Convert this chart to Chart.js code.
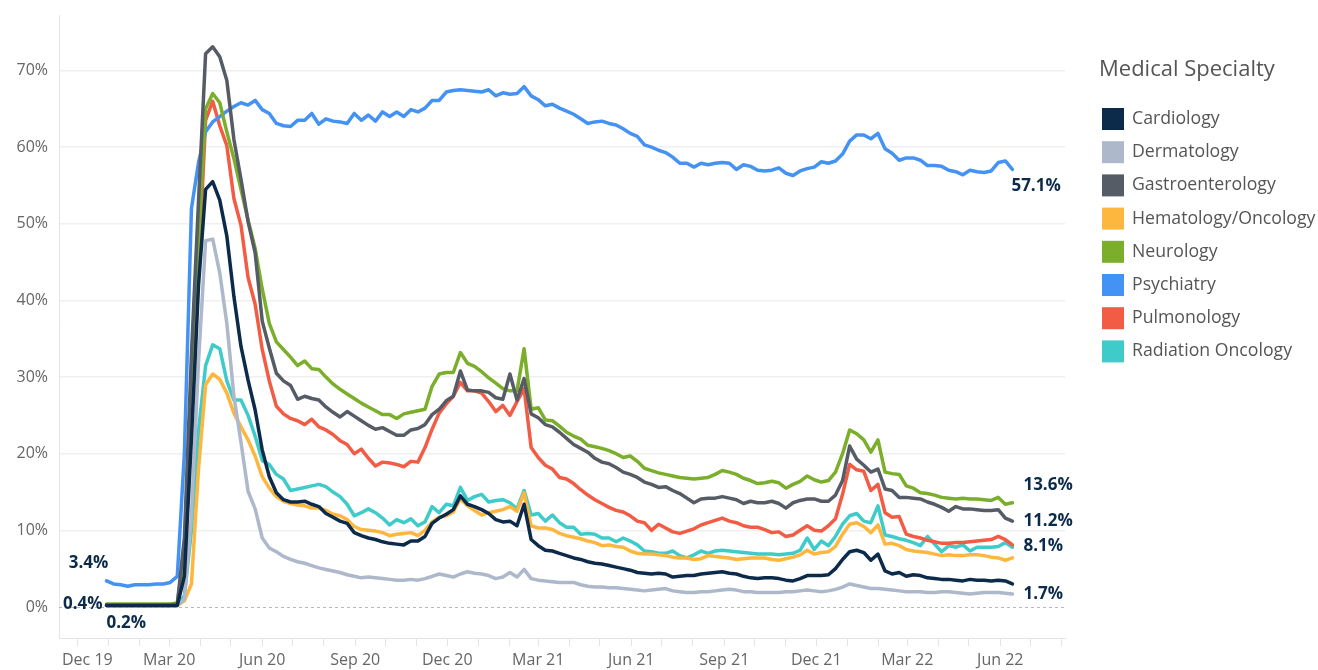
<!DOCTYPE html>
<html>
<head>
<meta charset="utf-8">
<title>Medical Specialty</title>
<script src="https://cdn.jsdelivr.net/npm/chart.js@4.4.1/dist/chart.umd.min.js"></script>
<style>
  html, body { margin: 0; padding: 0; background: #ffffff; }
  #wrap { position: relative; width: 1318px; height: 670px; }
</style>
</head>
<body>
<div id="wrap"><canvas id="grafica"></canvas></div>
<script>
// Semanas (lunes) desde el 30-dic-2019, 129 puntos
const primeraSemana = Date.UTC(2019, 11, 30);
const numSemanas = 129;

// Etiquetas trimestrales del eje x
const etiquetasTrimestre = ['Dec 19', 'Mar 20', 'Jun 20', 'Sep 20', 'Dec 20', 'Mar 21', 'Jun 21', 'Sep 21', 'Dec 21', 'Mar 22', 'Jun 22'];
const especialidades = ['Cardiology', 'Dermatology', 'Gastroenterology', 'Hematology/Oncology', 'Neurology', 'Psychiatry', 'Pulmonology', 'Radiation Oncology'];
const colores = ['#0c2b4b', '#adb8cb', '#555c66', '#fdb73e', '#7bae2a', '#4492f4', '#f25c45', '#3fcbc9'];
const ticksY = [0, 10, 20, 30, 40, 50, 60, 70];

// Valores semanales (%)
const cardiology = [
  0.2, 0.2, 0.2, 0.2, 0.2, 0.2, 0.2, 0.2, 0.2, 0.2,
  0.2, 4, 22, 42, 54.5, 55.5, 53.1, 48.4, 40.5, 34.0,
  29.6, 25.7, 20.5, 17.0, 14.9, 14.0, 13.7, 13.7, 13.8, 13.4,
  13.1, 12.2, 11.7, 11.2, 10.9, 9.7, 9.3, 9.0, 8.8, 8.5,
  8.3, 8.2, 8.1, 8.6, 8.6, 9.2, 10.9, 11.6, 12.1, 12.7,
  14.5, 13.4, 13.1, 12.7, 12.2, 11.4, 11.1, 11.2, 10.6, 13.4,
  8.8, 8.0, 7.4, 7.3, 7.0, 6.7, 6.4, 6.2, 5.9, 5.7,
  5.6, 5.4, 5.2, 5.0, 4.8, 4.5, 4.4, 4.3, 4.4, 4.3,
  3.9, 4.0, 4.1, 4.1, 4.3, 4.4, 4.5, 4.6, 4.4, 4.3,
  4.0, 3.8, 3.7, 3.8, 3.8, 3.7, 3.5, 3.4, 3.7, 4.1,
  4.1, 4.1, 4.2, 5.0, 6.2, 7.2, 7.4, 7.1, 6.1, 6.9,
  4.7, 4.3, 4.5, 4.0, 4.2, 4.1, 3.8, 3.7, 3.6, 3.6,
  3.5, 3.4, 3.6, 3.5, 3.5, 3.4, 3.5, 3.4, 3.0
];
const dermatology = [
  0.2, 0.2, 0.2, 0.2, 0.2, 0.2, 0.2, 0.2, 0.2, 0.2,
  0.2, 1, 12, 32, 47.8, 48.0, 43.6, 37.0, 27.5, 21.5,
  15.1, 12.8, 9.0, 7.7, 7.2, 6.6, 6.2, 5.9, 5.7, 5.4,
  5.1, 4.9, 4.7, 4.5, 4.2, 4.0, 3.8, 3.9, 3.8, 3.7,
  3.6, 3.5, 3.5, 3.6, 3.5, 3.7, 4.0, 4.3, 4.1, 3.9,
  4.3, 4.6, 4.4, 4.3, 4.1, 3.7, 3.9, 4.5, 3.9, 4.9,
  3.7, 3.5, 3.4, 3.3, 3.2, 3.2, 3.2, 2.9, 2.7, 2.6,
  2.6, 2.5, 2.5, 2.4, 2.3, 2.2, 2.1, 2.2, 2.3, 2.4,
  2.1, 2.0, 1.9, 1.9, 2.0, 2.0, 2.1, 2.2, 2.3, 2.2,
  2.0, 2.0, 1.9, 1.9, 1.9, 1.9, 2.0, 2.0, 2.1, 2.2,
  2.1, 2.0, 2.1, 2.3, 2.6, 3.0, 2.8, 2.6, 2.4, 2.4,
  2.3, 2.2, 2.1, 2.0, 2.0, 2.0, 1.9, 1.9, 2.0, 2.0,
  1.9, 1.8, 1.7, 1.8, 1.9, 1.9, 1.9, 1.8, 1.7
];
const gastroenterology = [
  0.3, 0.3, 0.3, 0.3, 0.3, 0.3, 0.3, 0.3, 0.3, 0.3,
  0.4, 9, 33, 53, 72.2, 73.1, 71.8, 68.7, 61.0, 55.8,
  50.3, 46.2, 37.3, 33.8, 30.5, 29.5, 28.9, 27.1, 27.5, 27.2,
  27.0, 26.1, 25.4, 24.8, 25.5, 24.9, 24.3, 23.7, 23.2, 23.4,
  22.9, 22.4, 22.4, 23.1, 23.3, 23.8, 25.1, 25.8, 26.9, 27.5,
  30.8, 28.3, 28.2, 28.2, 28.0, 27.3, 27.1, 30.4, 27.0, 29.8,
  25.2, 24.7, 23.8, 23.5, 22.8, 22.0, 21.2, 20.7, 20.2, 19.4,
  18.9, 18.7, 18.2, 17.6, 17.3, 16.9, 16.3, 16.0, 15.6, 15.7,
  15.2, 14.8, 14.2, 13.6, 14.1, 14.2, 14.2, 14.4, 14.2, 14.0,
  13.5, 13.8, 13.6, 13.6, 13.8, 13.5, 12.9, 13.6, 13.9, 14.1,
  14.1, 13.8, 13.8, 14.6, 16.5, 21.0, 19.3, 18.5, 17.6, 18.0,
  15.4, 15.2, 14.3, 14.3, 14.2, 14.1, 13.7, 13.4, 13.0, 12.5,
  13.1, 12.8, 12.8, 12.7, 12.6, 12.6, 12.7, 11.6, 11.2
];
const hematologyOncology = [
  0.2, 0.2, 0.2, 0.2, 0.2, 0.2, 0.2, 0.2, 0.2, 0.2,
  0.2, 0.8, 3, 18, 29.0, 30.4, 29.7, 27.9, 25.3, 23.5,
  21.8, 19.7, 17.0, 15.5, 14.4, 13.8, 13.5, 13.3, 13.2, 12.9,
  12.9, 12.6, 12.1, 11.9, 11.4, 10.5, 10.1, 10.0, 9.9, 9.7,
  9.3, 9.5, 9.6, 9.7, 9.3, 10.0, 11.1, 11.7, 11.9, 12.4,
  14.1, 13.2, 12.6, 12.0, 12.3, 12.5, 12.7, 13.1, 12.5, 14.9,
  10.6, 10.3, 10.3, 10.1, 9.6, 9.3, 9.1, 8.9, 8.6, 8.4,
  8.0, 8.1, 7.9, 7.8, 7.3, 7.0, 6.9, 6.9, 6.8, 6.7,
  6.5, 6.4, 6.4, 6.2, 6.3, 6.7, 6.6, 6.5, 6.4, 6.2,
  6.3, 6.4, 6.4, 6.4, 6.2, 6.1, 6.3, 6.5, 6.8, 7.4,
  6.9, 7.1, 7.2, 7.9, 9.5, 10.8, 11.0, 10.5, 9.7, 10.7,
  8.2, 8.3, 8.0, 7.5, 7.3, 7.2, 7.1, 6.9, 6.7, 6.8,
  6.7, 6.7, 6.8, 6.8, 6.7, 6.5, 6.4, 6.1, 6.4
];
const neurology = [
  0.4, 0.4, 0.4, 0.4, 0.4, 0.4, 0.4, 0.4, 0.4, 0.4,
  0.5, 7, 28, 48, 65.0, 67.0, 65.8, 62.0, 58.5, 54.5,
  50.5, 46.8, 41.5, 37.0, 34.6, 33.6, 32.6, 31.5, 32.1, 31.1,
  31.0, 30.0, 29.1, 28.4, 27.8, 27.2, 26.6, 26.1, 25.6, 25.1,
  25.1, 24.6, 25.2, 25.4, 25.6, 25.8, 28.8, 30.4, 30.6, 30.6,
  33.2, 31.8, 31.4, 30.7, 29.9, 29.2, 28.5, 28.2, 28.2, 33.7,
  25.8, 26.0, 24.4, 24.3, 23.6, 22.8, 22.3, 21.9, 21.1, 20.9,
  20.7, 20.4, 20.0, 19.5, 19.7, 19.0, 18.1, 17.8, 17.5, 17.3,
  17.1, 16.9, 16.8, 16.7, 16.8, 16.9, 17.3, 17.8, 17.6, 17.3,
  16.8, 16.5, 16.1, 16.2, 16.4, 16.2, 15.5, 16.0, 16.4, 17.1,
  16.6, 16.3, 16.5, 17.6, 20.0, 23.1, 22.6, 21.8, 20.2, 21.8,
  17.6, 17.4, 17.3, 15.8, 15.5, 14.9, 14.8, 14.6, 14.3, 14.2,
  14.1, 14.2, 14.1, 14.1, 14.0, 13.9, 14.3, 13.4, 13.6
];
const psychiatry = [
  3.4, 3.0, 2.9, 2.7, 2.9, 2.9, 2.9, 3.0, 3.0, 3.2,
  4.0, 20, 52, 58, 62.0, 63.3, 64.0, 64.7, 65.3, 65.8,
  65.5, 66.1, 64.9, 64.4, 63.1, 62.8, 62.7, 63.5, 63.5, 64.4,
  63.0, 63.7, 63.4, 63.3, 63.1, 64.4, 63.5, 64.2, 63.4, 64.6,
  64.0, 64.6, 64.0, 64.9, 64.6, 65.1, 66.1, 66.1, 67.2, 67.4,
  67.5, 67.4, 67.3, 67.2, 67.5, 66.7, 67.1, 66.9, 67.0, 67.9,
  66.7, 66.2, 65.4, 65.6, 65.1, 64.7, 64.3, 63.7, 63.1, 63.3,
  63.4, 63.1, 62.9, 62.4, 61.8, 61.4, 60.3, 60.0, 59.6, 59.3,
  58.7, 57.9, 57.9, 57.4, 57.9, 57.7, 57.9, 58.0, 57.9, 57.1,
  57.7, 57.5, 57.0, 56.9, 57.0, 57.3, 56.6, 56.3, 56.9, 57.2,
  57.4, 58.1, 57.9, 58.2, 59.1, 60.8, 61.6, 61.6, 61.1, 61.8,
  59.8, 59.2, 58.3, 58.6, 58.6, 58.3, 57.6, 57.6, 57.5, 57.0,
  56.8, 56.4, 57.0, 56.8, 56.7, 56.9, 58.0, 58.2, 57.1
];
const pulmonology = [
  0.2, 0.2, 0.2, 0.2, 0.2, 0.2, 0.2, 0.2, 0.2, 0.2,
  0.3, 5, 24, 44, 63.5, 66.0, 62.8, 60.2, 53.3, 49.8,
  43.0, 39.5, 33.6, 29.5, 26.2, 25.2, 24.6, 24.3, 23.8, 24.5,
  23.5, 23.1, 22.5, 21.7, 21.2, 20.0, 20.6, 19.4, 18.4, 18.9,
  18.8, 18.6, 18.3, 19.0, 18.9, 20.8, 23.2, 25.3, 26.5, 27.5,
  29.3, 28.2, 28.2, 27.9, 26.8, 25.5, 26.3, 25.0, 26.8, 28.5,
  20.8, 19.5, 18.5, 18.0, 16.9, 16.7, 16.1, 15.3, 14.6, 14.0,
  13.5, 13.0, 12.6, 12.4, 11.9, 11.2, 11.0, 10.0, 10.8, 10.3,
  9.8, 9.6, 9.9, 10.2, 10.7, 11.0, 11.3, 11.6, 11.2, 11.0,
  10.6, 10.4, 10.4, 10.1, 9.7, 9.8, 9.2, 9.4, 10.0, 10.6,
  10.0, 9.9, 10.6, 11.5, 14.7, 18.6, 17.9, 17.7, 15.2, 16.0,
  12.3, 11.7, 11.8, 9.5, 9.2, 9.0, 8.7, 8.5, 8.3, 8.3,
  8.4, 8.4, 8.5, 8.6, 8.7, 8.8, 9.2, 8.8, 8.1
];
const radiationOncology = [
  0.2, 0.2, 0.2, 0.2, 0.2, 0.2, 0.2, 0.2, 0.2, 0.2,
  0.2, 1.5, 10, 23, 31.5, 34.2, 33.7, 29.5, 27.0, 27.0,
  25.0, 22.3, 19.1, 18.6, 17.3, 16.7, 15.2, 15.4, 15.6, 15.8,
  16.0, 15.7, 15.0, 14.4, 13.4, 11.9, 12.3, 12.8, 12.3, 11.6,
  10.7, 11.4, 11.0, 11.5, 10.6, 11.1, 13.1, 12.3, 13.4, 13.2,
  15.6, 13.9, 14.4, 14.7, 13.7, 13.9, 14.0, 13.6, 12.8, 15.2,
  12.0, 12.2, 11.2, 12.0, 11.0, 10.4, 10.4, 9.5, 9.6, 9.5,
  9.0, 9.0, 8.5, 9.0, 8.6, 8.1, 7.3, 7.2, 7.0, 7.0,
  7.3, 6.7, 6.4, 6.8, 7.3, 7.0, 7.3, 7.4, 7.3, 7.2,
  7.1, 7.0, 6.9, 6.9, 6.9, 6.8, 6.9, 7.0, 7.4, 9.0,
  7.5, 8.6, 8.0, 9.2, 10.8, 11.9, 12.2, 11.2, 11.0, 13.2,
  9.4, 9.2, 8.9, 8.7, 8.4, 8.0, 9.2, 8.2, 7.2, 8.0,
  7.8, 8.1, 7.3, 7.8, 7.8, 7.8, 7.9, 8.4, 7.8
];

const series = [cardiology, dermatology, gastroenterology, hematologyOncology, neurology, psychiatry, pulmonology, radiationOncology];

// Utilidad: dias desde el 1-dic-2019
const origen = Date.UTC(2019, 11, 1);
const DIA = 86400000;
const diasDesde = (t) => Math.round((t - origen) / DIA);

const semanas = [];
for (let i = 0; i < numSemanas; i++) {
    semanas.push(diasDesde(primeraSemana) + 7 * i);
}

// Marcas mensuales; etiqueta solo cada tres meses
const marcasMes = [];
const etiquetasX = [];
for (let m = 0; m < 33; m++) {
    const dia = diasDesde(Date.UTC(2019, 11 + m, 1));
    marcasMes.push(dia);
    if (m % 3 === 0 && etiquetasTrimestre[m / 3]) {
        etiquetasX.push({dia: dia, texto: etiquetasTrimestre[m / 3]});
    }
}

const FUENTE = "'Open Sans', 'Noto Sans', sans-serif";
Chart.defaults.font.family = FUENTE;

// Linea punteada en 0%
const lineaCero = {
    id: 'lineaCero',
    beforeDatasetsDraw(chart) {
        const {ctx, chartArea, scales} = chart;
        const y = Math.round(scales.y.getPixelForValue(0)) + 0.5;
        ctx.save();
        ctx.strokeStyle = '#b8b8b8';
        ctx.lineWidth = 1;
        ctx.setLineDash([3, 3]);
        ctx.beginPath();
        ctx.moveTo(chartArea.left, y);
        ctx.lineTo(chartArea.right, y);
        ctx.stroke();
        ctx.restore();
    }
};

// Etiquetas del eje x (la primera no sale del area)
const etiquetasEjeX = {
    id: 'etiquetasEjeX',
    afterDraw(chart) {
        const {ctx, chartArea, scales} = chart;
        ctx.save();
        ctx.font = "16px " + FUENTE;
        ctx.fillStyle = '#666666';
        ctx.textAlign = 'center';
        ctx.textBaseline = 'middle';
        etiquetasX.forEach(e => {
            const w = ctx.measureText(e.texto).width;
            let x = scales.x.getPixelForValue(e.dia);
            x = Math.max(x, chartArea.left + w / 2 + 3);
            ctx.fillText(e.texto, x, 660);
        });
        ctx.restore();
    }
};

// Etiquetas en los extremos de las lineas
const etiquetasExtremos = {
    id: 'etiquetasExtremos',
    afterDatasetsDraw(chart, args, opts) {
        const {ctx} = chart;
        ctx.save();
        ctx.font = "bold 17px " + FUENTE;
        ctx.fillStyle = '#0c2b4b';
        ctx.textBaseline = 'middle';
        opts.items.forEach(e => {
            const meta = chart.getDatasetMeta(e.serie);
            const idx = e.inicio ? 0 : meta.data.length - 1;
            const p = meta.data[idx];
            const valor = series[e.serie][idx];
            ctx.textAlign = e.align;
            ctx.fillText(valor.toFixed(1) + '%', p.x + e.dx, p.y + e.dy);
        });
        ctx.restore();
    }
};

// Leyenda dibujada a la derecha
const leyenda = {
    id: 'leyenda',
    afterDraw(chart) {
        const {ctx} = chart;
        ctx.save();
        ctx.textBaseline = 'middle';
        ctx.textAlign = 'left';
        ctx.fillStyle = '#555555';
        ctx.font = "22px " + FUENTE;
        ctx.fillText('Medical Specialty', 1099, 70);
        ctx.font = "17.7px " + FUENTE;
        especialidades.forEach((nombre, k) => {
            const yc = 119 + k * 33.2;
            ctx.fillStyle = colores[k];
            ctx.fillRect(1102, yc - 11, 22, 22);
            ctx.fillStyle = '#555555';
            ctx.fillText(nombre, 1132, yc);
        });
        ctx.restore();
    }
};

new Chart(document.getElementById('grafica'), {
    type: 'line',
    data: {
        datasets: especialidades.map((nombre, k) => ({
            label: nombre,
            data: series[k].map((v, i) => ({x: semanas[i], y: v})),
            borderColor: colores[k],
            backgroundColor: colores[k],
            borderWidth: 3.5,
            pointRadius: 0,
            tension: 0,
            borderJoinStyle: 'round',
            borderCapStyle: 'round'
        }))
    },
    options: {
        responsive: true,
        maintainAspectRatio: false,
        animation: false,
        layout: {
            padding: {top: 15, right: 253, bottom: 0, left: 0}
        },
        plugins: {
            legend: {display: false},
            tooltip: {enabled: false},
            etiquetasExtremos: {
                items: [
                    {serie: 5, inicio: false, dx: -1, dy: 17, align: 'left'},
                    {serie: 4, inicio: false, dx: 11, dy: -18, align: 'left'},
                    {serie: 2, inicio: false, dx: 11, dy: 0, align: 'left'},
                    {serie: 6, inicio: false, dx: 11, dy: 1, align: 'left'},
                    {serie: 1, inicio: false, dx: 11, dy: 0, align: 'left'},
                    {serie: 5, inicio: true, dx: -18, dy: -18, align: 'center'},
                    {serie: 4, inicio: true, dx: -4, dy: 0, align: 'right'},
                    {serie: 0, inicio: true, dx: 0, dy: 18, align: 'left'}
                ]
            }
        },
        scales: {
            x: {
                type: 'linear',
                min: -18,
                max: 977,
                afterBuildTicks: (s) => { s.ticks = marcasMes.map(d => ({value: d})); },
                afterFit: (s) => {
                    s.height = 32;
                    s.paddingLeft = 0;
                    s.paddingRight = 0;
                },
                ticks: {
                    autoSkip: false,
                    maxRotation: 0,
                    minRotation: 0,
                    padding: 5,
                    font: {size: 16},
                    callback: () => ''
                },
                grid: {
                    drawOnChartArea: false,
                    drawTicks: true,
                    tickLength: 8,
                    color: '#e4e4e4'
                },
                border: {display: true, color: '#e4e4e4'}
            },
            y: {
                min: -4.05,
                max: 77.25,
                afterBuildTicks: (s) => { s.ticks = ticksY.map(v => ({value: v})); },
                afterFit: (s) => {
                    s.width = 59;
                    s.paddingTop = 0;
                    s.paddingBottom = 0;
                },
                ticks: {
                    padding: 11,
                    color: '#666666',
                    font: {size: 16},
                    callback: (v) => v + '%'
                },
                grid: {
                    drawTicks: false,
                    lineWidth: 1.5,
                    color: (c) => (c.tick && c.tick.value === 0) ? 'rgba(0,0,0,0)' : '#efefef'
                },
                border: {display: true, color: '#e4e4e4'}
            }
        }
    },
    plugins: [lineaCero, etiquetasEjeX, etiquetasExtremos, leyenda]
});
</script>
</body>
</html>
